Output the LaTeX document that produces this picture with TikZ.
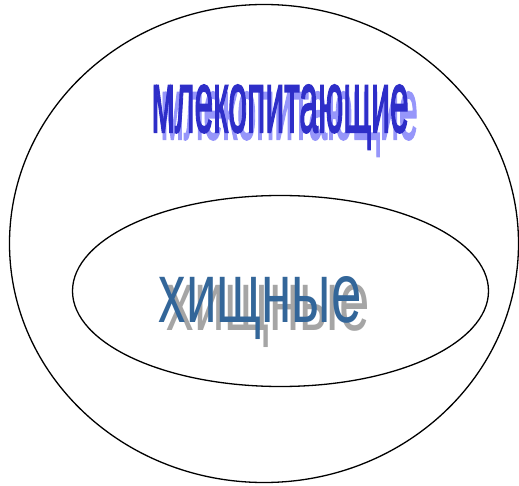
\documentclass[tikz,border=0pt]{standalone}
\usepackage{fontspec}
\setmainfont{Liberation Sans}
\newfontfamily\heavyfont{Liberation Sans}[FakeBold=2.5]
\usetikzlibrary{shapes.geometric}
\definecolor{ink}{RGB}{0,0,0}
\definecolor{wordblue}{RGB}{46,46,200}
\definecolor{wordshade}{RGB}{150,150,250}
\definecolor{steel}{RGB}{51,102,153}
\definecolor{greyshade}{RGB}{165,165,165}
\tikzset{
  every picture/.style={color=ink, line width=1.3pt},
  set/.style={ellipse, draw=ink, fill=none, inner sep=0pt},
  word/.style={anchor=base west, inner sep=0pt},
}
\newcommand{\wordart}[3]{\resizebox{#1}{#2}{#3}}

\begin{document}
\begin{tikzpicture}[x=1pt, y=-1pt]
  \useasboundingbox (0,0) rectangle (519,486);
  % sets
  \node[set, minimum width=509pt, minimum height=478pt] (mammals) at (264,243.5) {};
  \node[set, minimum width=416pt, minimum height=191pt] (predators) at (280.5,291) {};
  % labels
  \node[word, text=wordshade] (mammalsshade) at (160,139) {\wordart{257pt}{47pt}{\heavyfont млекопитающие}};
  \node[word, text=wordblue] (mammalslbl) at (151,132) {\wordart{257pt}{47pt}{\heavyfont млекопитающие}};
  \node[word, text=greyshade] (predatorsshade) at (166,330) {\wordart{203pt}{46pt}{хищные}};
  \node[word, text=steel] (predatorslbl) at (158,322) {\wordart{203pt}{46pt}{хищные}};
\end{tikzpicture}
\end{document}
